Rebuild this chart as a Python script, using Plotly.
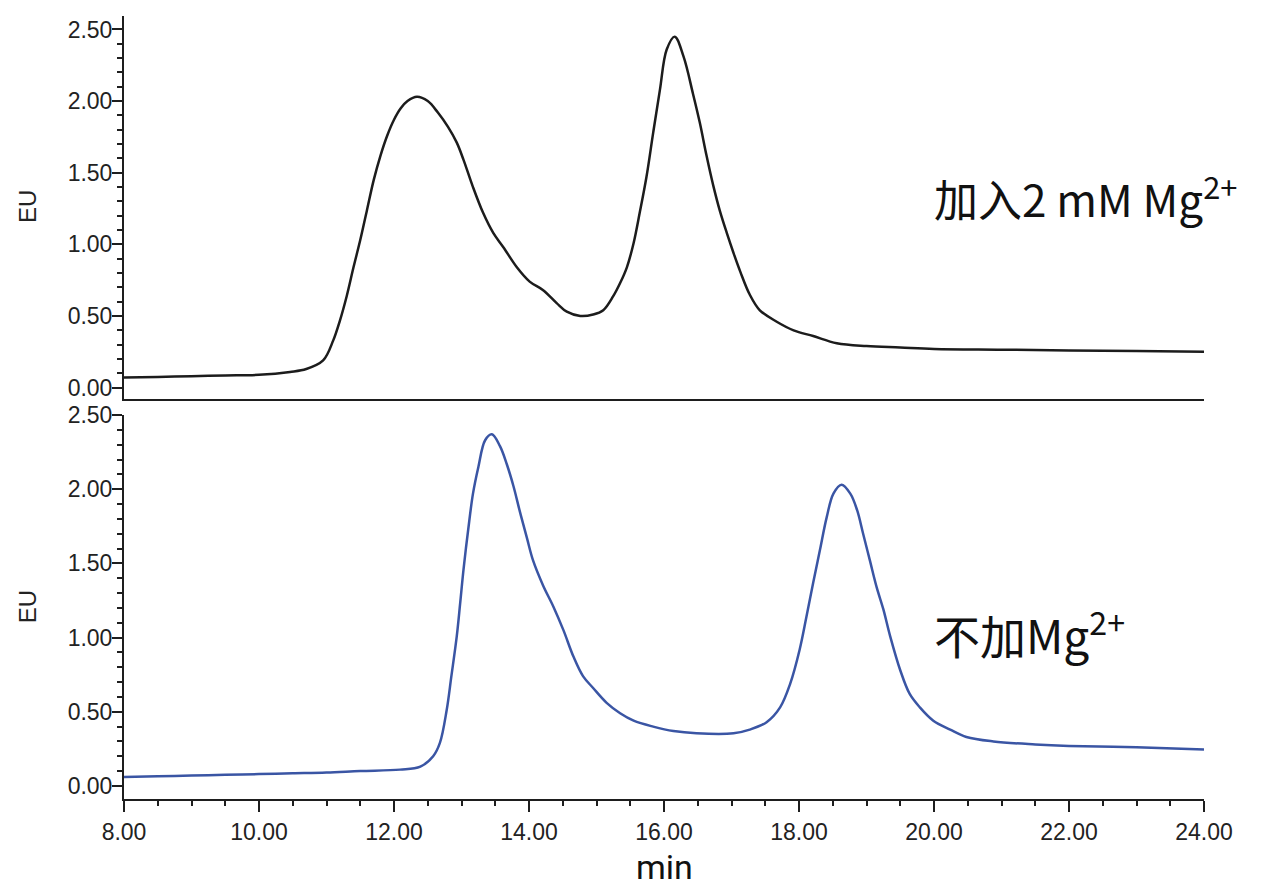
import plotly.graph_objects as go
from plotly.subplots import make_subplots

# Chromatogram with 2 mM Mg2+ added (top panel)
top_t = [8.0, 8.5, 9.0, 9.5, 10.0, 10.46, 10.7, 10.95, 11.1, 11.2, 11.3, 11.4, 11.5, 11.6, 11.7,
         11.8, 11.9, 12.0, 12.1, 12.2, 12.34, 12.5, 12.65, 12.8, 12.93, 13.03, 13.17, 13.32, 13.47,
         13.62, 13.82, 14.01, 14.21, 14.41, 14.56, 14.76, 14.95, 15.10, 15.25, 15.35, 15.45, 15.55,
         15.64, 15.74, 15.84, 15.94, 16.04, 16.16, 16.29, 16.43, 16.53, 16.63, 16.73, 16.83, 16.93,
         17.03, 17.13, 17.27, 17.42, 17.67, 17.92, 18.21, 18.56, 19.0, 19.5, 20.0, 21.0, 22.0, 23.0, 24.0]
top_eu = [0.07, 0.075, 0.08, 0.085, 0.09, 0.11, 0.13, 0.19, 0.33, 0.47, 0.64, 0.84, 1.03, 1.24, 1.45,
          1.62, 1.76, 1.87, 1.95, 2.00, 2.03, 2.00, 1.92, 1.82, 1.71, 1.59, 1.40, 1.22, 1.08,
          0.98, 0.84, 0.74, 0.68, 0.59, 0.53, 0.50, 0.51, 0.54, 0.64, 0.73, 0.84, 1.01,
          1.22, 1.47, 1.78, 2.08, 2.36, 2.45, 2.31, 2.05, 1.85, 1.62, 1.41, 1.23, 1.08,
          0.94, 0.81, 0.65, 0.54, 0.46, 0.40, 0.36, 0.31, 0.29, 0.28, 0.27, 0.265, 0.26, 0.255, 0.25]

# Chromatogram without Mg2+ (bottom panel)
bot_t = [8.0, 8.5, 9.0, 9.5, 10.0, 10.5, 11.0, 11.5, 12.09, 12.39, 12.58, 12.68, 12.78, 12.85, 12.93,
         12.98, 13.03, 13.10, 13.17, 13.25, 13.35, 13.45, 13.57, 13.67, 13.77, 13.87, 13.97, 14.06,
         14.21, 14.36, 14.51, 14.66, 14.80, 14.95, 15.15, 15.35, 15.55, 15.84, 16.14, 16.48, 17.03,
         17.27, 17.52, 17.72, 17.87, 18.01, 18.11, 18.21, 18.31, 18.41, 18.51, 18.63, 18.76, 18.86,
         18.95, 19.05, 19.15, 19.25, 19.35, 19.50, 19.64, 19.79, 19.99, 20.24, 20.48, 20.88, 21.5,
         22.0, 23.0, 24.0]
bot_eu = [0.06, 0.065, 0.07, 0.075, 0.08, 0.085, 0.09, 0.10, 0.11, 0.13, 0.20, 0.29, 0.51, 0.74, 1.01,
          1.23, 1.46, 1.73, 1.97, 2.15, 2.33, 2.37, 2.29, 2.17, 2.02, 1.84, 1.67, 1.52,
          1.35, 1.21, 1.05, 0.87, 0.74, 0.66, 0.56, 0.49, 0.44, 0.40, 0.37, 0.355, 0.355,
          0.38, 0.43, 0.53, 0.69, 0.92, 1.14, 1.37, 1.59, 1.81, 1.97, 2.03, 1.97, 1.86,
          1.70, 1.52, 1.34, 1.19, 1.01, 0.78, 0.62, 0.53, 0.44, 0.38, 0.33, 0.30, 0.28,
          0.27, 0.26, 0.245]

top_label = "加入2 mM Mg<sup>2+</sup>"
bot_label = "不加Mg<sup>2+</sup>"
y_title = "EU"
x_title = "min"

AXIS = "#1e1e1e"
TICKFONT = dict(family="Liberation Sans, Arial", size=23, color="#222222")
TITLEFONT_Y = dict(family="Liberation Sans, Arial", size=24, color="#222222")

fig = make_subplots(rows=2, cols=1, shared_xaxes=False, vertical_spacing=0.0)

fig.add_trace(go.Scatter(x=top_t, y=top_eu, mode="lines", line=dict(color="#1c1c1c", width=2.5, shape="spline"),
                         showlegend=False), row=1, col=1)
fig.add_trace(go.Scatter(x=bot_t, y=bot_eu, mode="lines", line=dict(color="#3a55a4", width=2.5, shape="spline"),
                         showlegend=False), row=2, col=1)

yaxis_common = dict(
    showline=True, linecolor=AXIS, linewidth=2, mirror=False, automargin=False,
    ticks="outside", ticklen=10, tickwidth=2, tickcolor=AXIS,
    dtick=0.5, tick0=0, tickformat=".2f", tickfont=TICKFONT, ticklabelstandoff=-5,
    minor=dict(ticks="outside", ticklen=5, tickwidth=2, tickcolor=AXIS, dtick=0.1, tick0=0, showgrid=False),
    showgrid=False, zeroline=False,
)

fig.update_layout(
    width=1273, height=888,
    margin=dict(l=124, r=69, t=16, b=89, autoexpand=False),
    paper_bgcolor="white", plot_bgcolor="white",
    xaxis=dict(domain=[0, 1], range=[8, 24], showline=True, linecolor=AXIS, linewidth=2, automargin=False,
               showticklabels=False, ticks="", showgrid=False, zeroline=False, anchor="y"),
    yaxis=dict(domain=[0.5109, 1.0], range=[-0.079, 2.594], anchor="x", **yaxis_common),
    xaxis2=dict(domain=[0, 1], range=[8, 24], showline=True, linecolor=AXIS, linewidth=2, automargin=False,
                ticks="outside", ticklen=11, tickwidth=2, tickcolor=AXIS,
                dtick=2, tick0=8, tickformat=".2f", tickfont=TICKFONT,
                minor=dict(ticks="outside", ticklen=5, tickwidth=2, tickcolor=AXIS, dtick=0.5, tick0=8, showgrid=False),
                showgrid=False, zeroline=False, anchor="y2"),
    yaxis2=dict(domain=[0.0, 0.4904], range=[-0.088, 2.5], anchor="x2", **yaxis_common),
)

# axis titles placed as paper annotations
for yc in (0.756, 0.245):
    fig.add_annotation(text=y_title, xref="paper", yref="paper", x=-0.0898, y=yc, textangle=-90,
                       xanchor="center", yanchor="middle", showarrow=False, font=TITLEFONT_Y)
fig.add_annotation(text=x_title, xref="paper", yref="paper", x=0.5, y=-0.0870,
                   xanchor="center", yanchor="middle", showarrow=False, borderpad=0,
                   font=dict(family="Roboto", size=34, color="#111111"))

fig.add_annotation(text=top_label, xref="paper", yref="paper", x=0.748, y=0.770,
                   xanchor="left", yanchor="middle", showarrow=False,
                   font=dict(family="Noto Sans CJK SC", size=44, color="#111111"))
fig.add_annotation(text=bot_label, xref="paper", yref="paper", x=0.748, y=0.213,
                   xanchor="left", yanchor="middle", showarrow=False,
                   font=dict(family="Noto Sans CJK SC", size=46, color="#111111"))

fig.write_html("out.html")
